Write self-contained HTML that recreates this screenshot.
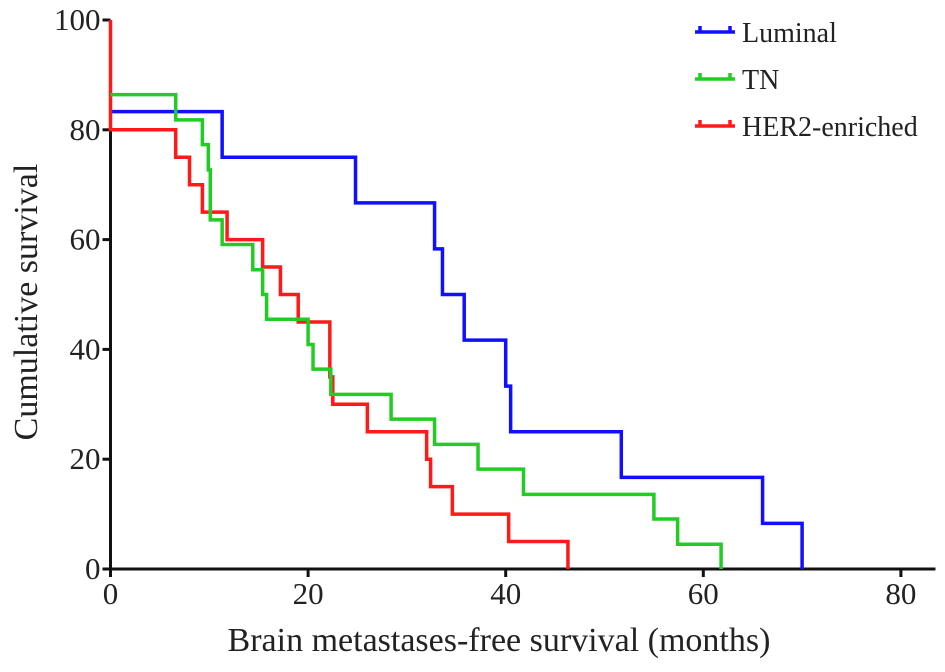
<!DOCTYPE html>
<html><head><meta charset="utf-8"><style>body{margin:0;background:#fff}svg{display:block}text{font-family:"Liberation Serif",serif;fill:#222}</style></head>
<body>
<svg id="chart" width="945" height="672" xmlns="http://www.w3.org/2000/svg"></svg>
<script>
const seriesNames = ["Luminal","TN","HER2-enriched"];
const seriesColors = ["#1010ff","#22cc22","#ff1a1a"];
const lumT = [0,11.3,24.8,32.8,33.6,35.8,40,40.5,51.7,66,70];
const lumS = [83.3,75,66.7,58.3,50,41.7,33.3,25,16.7,8.3,0];
const tnT = [0,6.6,9.3,9.9,10.1,11.3,14.4,15.4,15.8,20,20.5,22.3,28.4,32.8,37.2,41.8,55,57.4,61.8];
const tnS = [86.4,81.8,77.3,72.7,63.6,59.1,54.5,50,45.5,40.9,36.4,31.8,27.3,22.7,18.2,13.6,9.1,4.5,0];
const herT = [0,0,6.6,8,9.3,11.8,15.4,17.2,19,22.2,22.5,26,32,32.4,34.6,40.3,46.3];
const herS = [100,80,75,70,65,60,55,50,45,35,30,25,20,15,10,5,0];
const xTicks = [0,20,40,60,80];
const yTicks = [0,20,40,60,80,100];

const svg = document.getElementById('chart');
const NS = "http://www.w3.org/2000/svg";
const X = t => 110.5 + t*9.88;
const Y = s => 569 - s*5.49;
function mk(tag, attrs){const e=document.createElementNS(NS,tag);for(const k in attrs)e.setAttribute(k,attrs[k]);svg.appendChild(e);return e;}

let ax = mk('path',{d:`M${X(0)},${Y(100)} V${Y(0)} H${X(83.5)}`,stroke:'#111','stroke-width':3,fill:'none'});


xTicks.forEach(v=>{
  const l=mk('line',{x1:X(v),x2:X(v),y1:Y(0),y2:Y(0)+8,stroke:'#111','stroke-width':3});
  
  
  const t=mk('text',{x:X(v),y:604,'font-size':31,'text-anchor':'middle'});t.textContent=v;
  
  
});
yTicks.forEach(v=>{
  const l=mk('line',{x1:X(0)-8,x2:X(0),y1:Y(v),y2:Y(v),stroke:'#111','stroke-width':3});
  
  
  const t=mk('text',{x:X(0)-10,y:Y(v)+10,'font-size':31,'text-anchor':'end'});t.textContent=v;
  
  
});
let xt=mk('text',{x:499,y:651,'font-size':34,'text-anchor':'middle'});xt.textContent='Brain metastases-free survival (months)';


let yt=mk('text',{x:0,y:0,'font-size':34,'text-anchor':'middle',transform:'translate(37,302) rotate(-90)'});yt.textContent='Cumulative survival';



const data=[[lumT,lumS],[tnT,tnS],[herT,herS]];
[0,2,1].forEach(i=>{
  const [T,S]=data[i];
  let d=`M${X(T[0])},${Y(S[0])}`;
  for(let k=1;k<T.length;k++){d+=` H${X(T[k])} V${Y(S[k])}`;}
  const p=mk('path',{d,stroke:seriesColors[i],'stroke-width':3.5,fill:'none'});
  
  
});
seriesNames.forEach((n,i)=>{
  const y=32+i*47;
  const g=mk('path',{d:`M695,${y} H735 M700,${y-6} V${y} M730,${y-6} V${y}`,stroke:seriesColors[i],'stroke-width':3.5,fill:'none'});
  
  
  const t=mk('text',{x:742,y:y+10,'font-size':28});t.textContent=n;
  
  
});
</script>
</body></html>
